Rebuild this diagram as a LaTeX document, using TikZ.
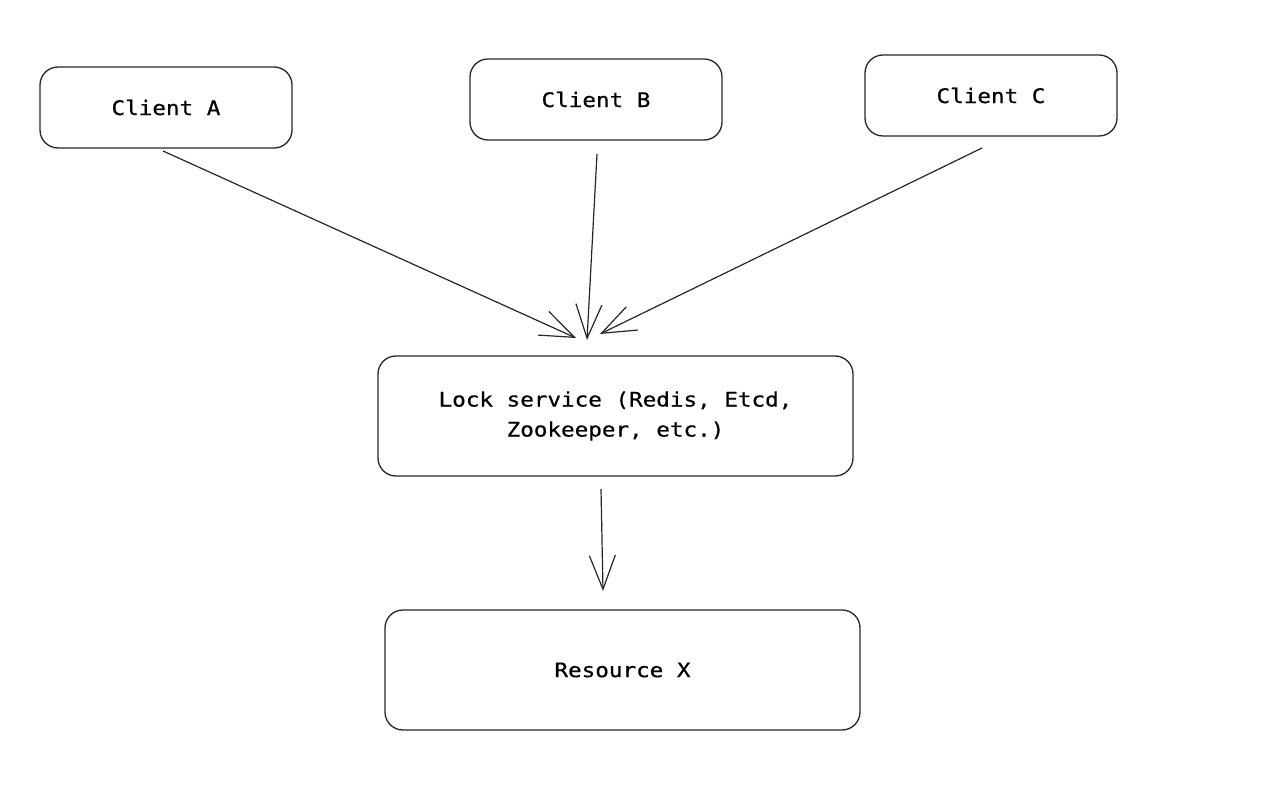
\documentclass[tikz,border=0pt]{standalone}
\usepackage{fontspec}
\newfontfamily\boxfont[FakeStretch=1.13,FakeBold=0.6]{DejaVu Sans Mono}
\usetikzlibrary{arrows.meta}
\begin{document}
\begin{tikzpicture}[x=1pt,y=-1pt,
  box/.style={draw=black!85, line width=1.3pt, rounded corners=18pt, font=\boxfont\fontsize{20}{30}\selectfont, align=center, inner sep=0pt},
  conn/.style={draw=black!85, line width=1.2pt, -{Straight Barb[length=34pt,width=26pt,line width=1.2pt]}}]
\useasboundingbox (0,0) rectangle (1268,786);
\node[box, minimum width=252pt, minimum height=81pt] (A) at (166,107.5) {Client A};
\node[box, minimum width=252pt, minimum height=81pt] (B) at (596,99.5) {Client B};
\node[box, minimum width=252pt, minimum height=81pt] (C) at (991,95.5) {Client C};
\node[box, minimum width=475pt, minimum height=120pt] (L) at (615.5,416) {Lock service (Redis, Etcd,\\Zookeeper, etc.)};
\node[box, minimum width=475pt, minimum height=120pt] (R) at (622.5,670) {Resource X};
\coordinate (a1) at (163,151);
\coordinate (a2) at (576,338);
\coordinate (b1) at (597,154);
\coordinate (b2) at (587,340);
\coordinate (c1) at (982,148);
\coordinate (c2) at (600,334);
\coordinate (l1) at (601,489);
\coordinate (l2) at (603,591);
\draw[conn] (a1) -- (a2);
\draw[conn] (b1) -- (b2);
\draw[conn] (c1) -- (c2);
\draw[conn] (l1) -- (l2);
\end{tikzpicture}
\end{document}
